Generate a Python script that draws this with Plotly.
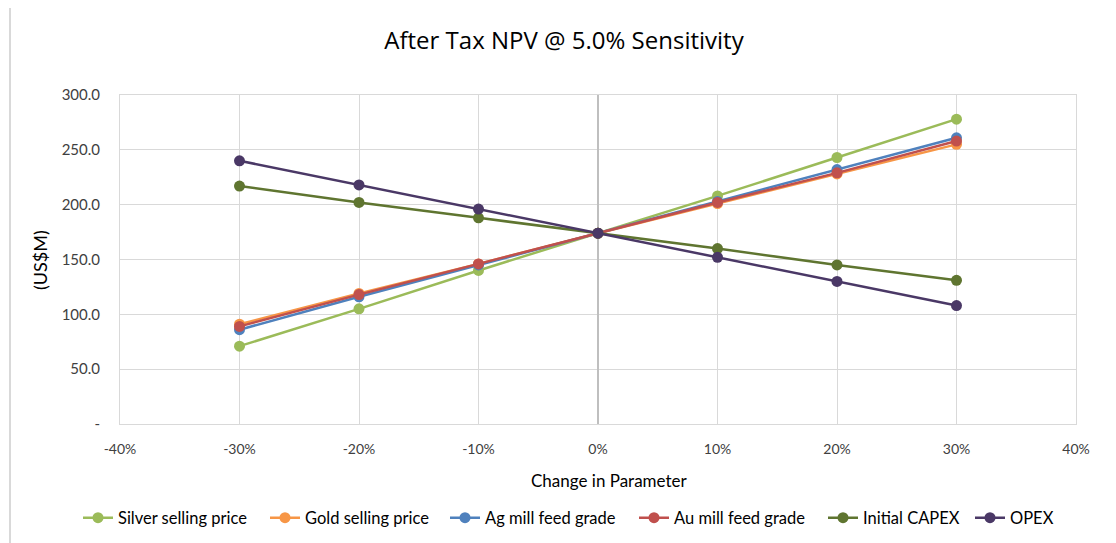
import plotly.graph_objects as go

changes = [-0.3, -0.2, -0.1, 0.0, 0.1, 0.2, 0.3]
silver_price = [71, 105, 140, 174, 208, 243, 278]
gold_price = [91, 119, 146, 174, 201, 228, 255]
ag_grade = [86, 116, 145, 174, 203, 232, 261]
au_grade = [89, 118, 146, 174, 202, 229, 258]
initial_capex = [217, 202, 188, 174, 160, 145, 131]
opex = [240, 218, 196, 174, 152, 130, 108]

series_names = ["Silver selling price", "Gold selling price", "Ag mill feed grade",
                "Au mill feed grade", "Initial CAPEX", "OPEX"]
series_values = [silver_price, gold_price, ag_grade, au_grade, initial_capex, opex]
series_colors = ["#9BBB59", "#F79646", "#4F81BD", "#C0504D", "#5F7530", "#4A3866"]

x_ticks = [-0.4, -0.3, -0.2, -0.1, 0.0, 0.1, 0.2, 0.3, 0.4]
x_ticktext = ["-40%", "-30%", "-20%", "-10%", "0%", "10%", "20%", "30%", "40%"]
y_ticks = [0, 50, 100, 150, 200, 250, 300]
y_ticktext = ["-", "50.0", "100.0", "150.0", "200.0", "250.0", "300.0"]

# page x of each legend entry's left edge (symbol start) in the reference layout
legend_left_px = [80, 267, 447, 636, 825, 972]

FONT = "Lato, Open Sans, sans-serif"
TFONT = "Open Sans, Lato, sans-serif"

OFF = 8  # page body margin
W, H = 1116, 543
L = 120 - OFF
T = 95 - OFF
R = W - (1076 - OFF)
B = H - (424 - OFF)
pw = W - L - R
ph = H - T - B

def px(x):
    return (x - OFF - L) / pw

def py(y):
    return (H - B - (y - OFF)) / ph

fig = go.Figure()
legend_layouts = {}
for i, (name, vals, col) in enumerate(zip(series_names, series_values, series_colors)):
    lname = "legend" if i == 0 else f"legend{i + 1}"
    fig.add_trace(go.Scatter(
        x=changes, y=vals, name=name, mode="lines+markers",
        line=dict(color=col, width=2.5),
        marker=dict(color=col, size=11),
        legend=lname,
    ))
    legend_layouts[lname] = dict(
        orientation="h", x=px(legend_left_px[i] - 2), xanchor="left",
        y=py(518), yanchor="middle",
        font=dict(family=FONT, size=16.5, color="#000000"),
        bgcolor="rgba(0,0,0,0)",
    )

fig.update_layout(
    width=W, height=H,
    margin=dict(l=L, r=R, t=T, b=B),
    paper_bgcolor="white", plot_bgcolor="white",
    font=dict(family=FONT, size=14, color="#404040"),
    title=dict(text="After Tax NPV @ 5.0% Sensitivity", x=(564 - OFF) / W, xanchor="center",
               xref="container", y=1 - (41 - OFF) / H, yanchor="middle", yref="container",
               font=dict(family=TFONT, size=24, color="#000000")),
    showlegend=True,
    xaxis=dict(range=[-0.4, 0.4], tickvals=x_ticks, ticktext=x_ticktext,
               showgrid=True, gridcolor="#d9d9d9", gridwidth=1,
               zeroline=True, zerolinecolor="#bfbfbf", zerolinewidth=1.5,
               showline=True, linecolor="#d9d9d9", mirror=True,
               ticks="", ticklabelstandoff=12,
               tickfont=dict(family=FONT, size=14, color="#404040")),
    yaxis=dict(range=[0, 300], tickvals=y_ticks, ticktext=y_ticktext,
               showgrid=True, gridcolor="#d9d9d9", gridwidth=1,
               zeroline=False,
               showline=True, linecolor="#d9d9d9", mirror=True,
               ticks="", ticklabelstandoff=16,
               tickfont=dict(family=FONT, size=15, color="#404040")),
    annotations=[
        dict(text="Change in Parameter", x=px(609), y=py(480), xref="paper", yref="paper",
             showarrow=False, xanchor="center", yanchor="middle",
             font=dict(family=FONT, size=17, color="#000000")),
        dict(text="(US$M)", x=px(40), y=py(260), xref="paper", yref="paper",
             showarrow=False, xanchor="center", yanchor="middle", textangle=-90,
             font=dict(family=FONT, size=18, color="#000000")),
    ],
    shapes=[
        dict(type="rect", xref="paper", yref="paper",
             x0=px(10), x1=px(1130), y0=py(560), y1=py(6),
             line=dict(color="#d9d9d9", width=2), fillcolor="rgba(0,0,0,0)", layer="below"),
    ],
    **legend_layouts,
)

fig.write_html("out.html")
